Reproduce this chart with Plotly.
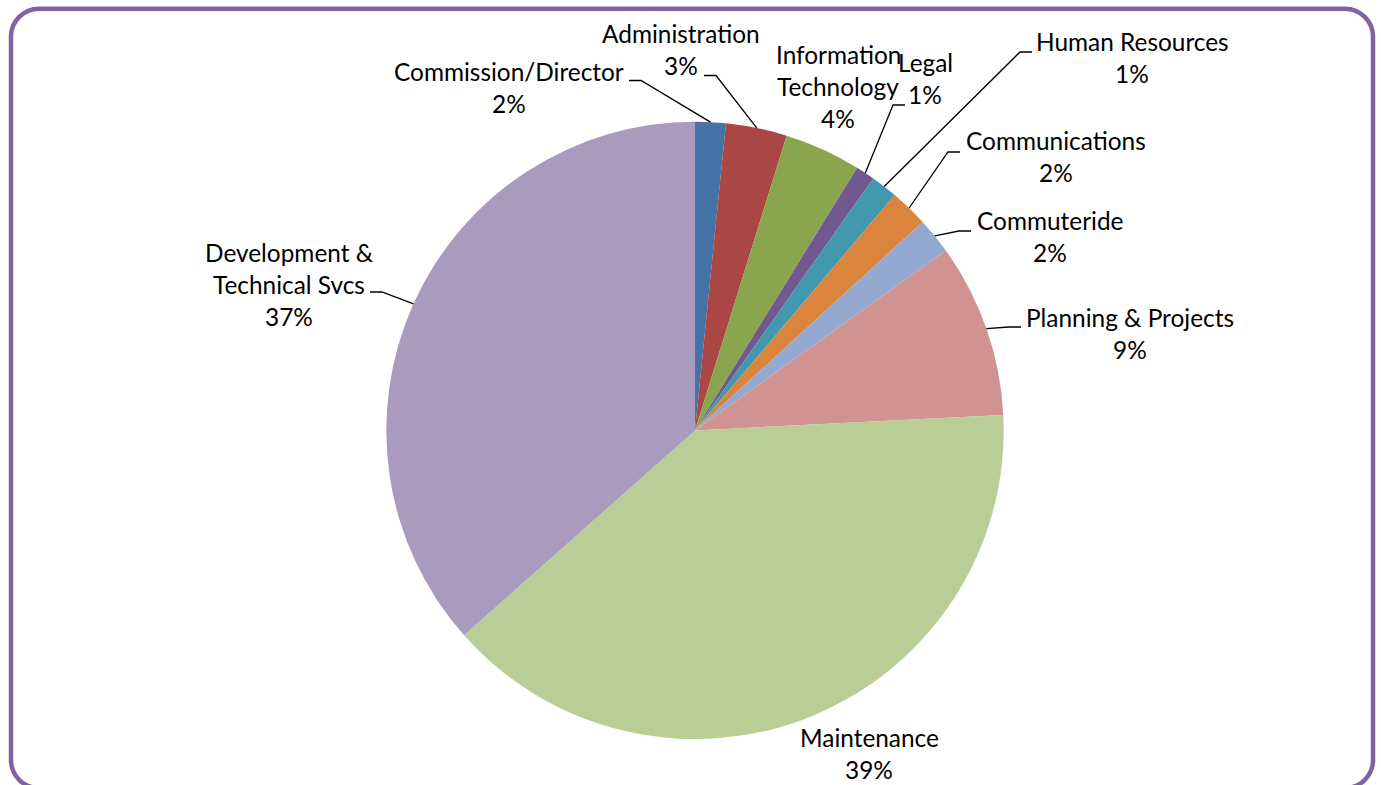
import math
import plotly.graph_objects as go

# ---------------- data ----------------
departments = [
    "Commission/Director", "Administration", "Information Technology", "Legal",
    "Human Resources", "Communications", "Commuteride", "Planning & Projects",
    "Maintenance", "Development & Technical Svcs",
]
shares = [1.6, 3.2, 4.0, 1.0, 1.4, 2.0, 1.9, 9.1, 39.25, 36.55]
label_lines = [
    ["Commission/Director"], ["Administration"], ["Information", "Technology"],
    ["Legal"], ["Human Resources"], ["Communications"], ["Commuteride"],
    ["Planning & Projects"], ["Maintenance"], ["Development &", "Technical Svcs"],
]

# ---------------- styling / layout ----------------
colors = ["#4572A7", "#AA4643", "#89A54E", "#71588F", "#4198AF",
          "#DB843D", "#93A9CF", "#D19392", "#B9CD96", "#A99BBD"]
W, H = 1381, 785
CX, CY, R = 695, 430.4, 308.7
LINE_H = 32
Y_SHIFT = -2
FONT = dict(family="Lato, 'Open Sans', sans-serif", size=24.4, color="#000000")
# (text center x, first line y, leader anchor x, leader anchor y)
label_place = [
    (509, 73, 629, 80.5),
    (681, 35, 704, 75.5),
    (838, 56, None, None),
    (925, 64, 905, 105),
    (1132, 43, 1032, 52),
    (1056, 142, 960, 152),
    (1050, 222, 971, 231),
    (1130, 319, 1021, 327),
    (869, 739, None, None),
    (289, 254, 370, 292),
]

fig = go.Figure()
fig.add_trace(go.Scatter(x=[], y=[], showlegend=False, hoverinfo="skip"))
fig.add_trace(go.Pie(
    labels=departments, values=shares, sort=False, direction="clockwise",
    rotation=0, textinfo="none", showlegend=False,
    marker=dict(colors=colors, line=dict(width=0)),
    domain=dict(x=[(CX - R) / W, (CX + R) / W],
                y=[1 - (CY + R) / H, 1 - (CY - R) / H]),
))

total = sum(shares)
annotations = []
shapes = []
cum = 0.0
for name, val, lines, place in zip(departments, shares, label_lines, label_place):
    mid = (cum + val / 2) / total * 2 * math.pi
    cum += val
    tx = CX + R * math.sin(mid)
    ty = CY - R * math.cos(mid)
    pct = f"{round(val / total * 100)}%"
    cx, y0, ax, ay = place
    for i, ln in enumerate(lines + [pct]):
        annotations.append(dict(x=cx, y=y0 + Y_SHIFT + i * LINE_H, xref="x", yref="y",
                                text=ln, showarrow=False, font=FONT,
                                xanchor="center", yanchor="middle"))
    if ax is not None:
        ex = ax + 12 * (1 if tx > ax else -1)
        shapes.append(dict(type="path", xref="x", yref="y", layer="above",
                           path=f"M {ax},{ay} L {ex},{ay} L {tx:.1f},{ty:.1f}",
                           line=dict(color="#000000", width=1.3)))

# rounded frame
L, T, Rr, B, rad = 11, 8.7, 1373, 788, 28
k = 0.552 * rad
frame = (f"M {L+rad},{T} L {Rr-rad},{T} C {Rr-rad+k},{T} {Rr},{T+rad-k} {Rr},{T+rad} "
         f"L {Rr},{B-rad} C {Rr},{B-rad+k} {Rr-rad+k},{B} {Rr-rad},{B} "
         f"L {L+rad},{B} C {L+rad-k},{B} {L},{B-rad+k} {L},{B-rad} "
         f"L {L},{T+rad} C {L},{T+rad-k} {L+rad-k},{T} {L+rad},{T} Z")
shapes.append(dict(type="path", xref="x", yref="y", layer="above", path=frame,
                   line=dict(color="#8064A2", width=4.5)))

fig.update_layout(
    width=W, height=H, margin=dict(l=0, r=0, t=0, b=0),
    paper_bgcolor="white", plot_bgcolor="rgba(0,0,0,0)",
    xaxis=dict(range=[0, W], visible=False, fixedrange=True, domain=[0, 1]),
    yaxis=dict(range=[H, 0], visible=False, fixedrange=True, domain=[0, 1]),
    annotations=annotations, shapes=shapes, showlegend=False,
)
fig.write_html("out.html")
